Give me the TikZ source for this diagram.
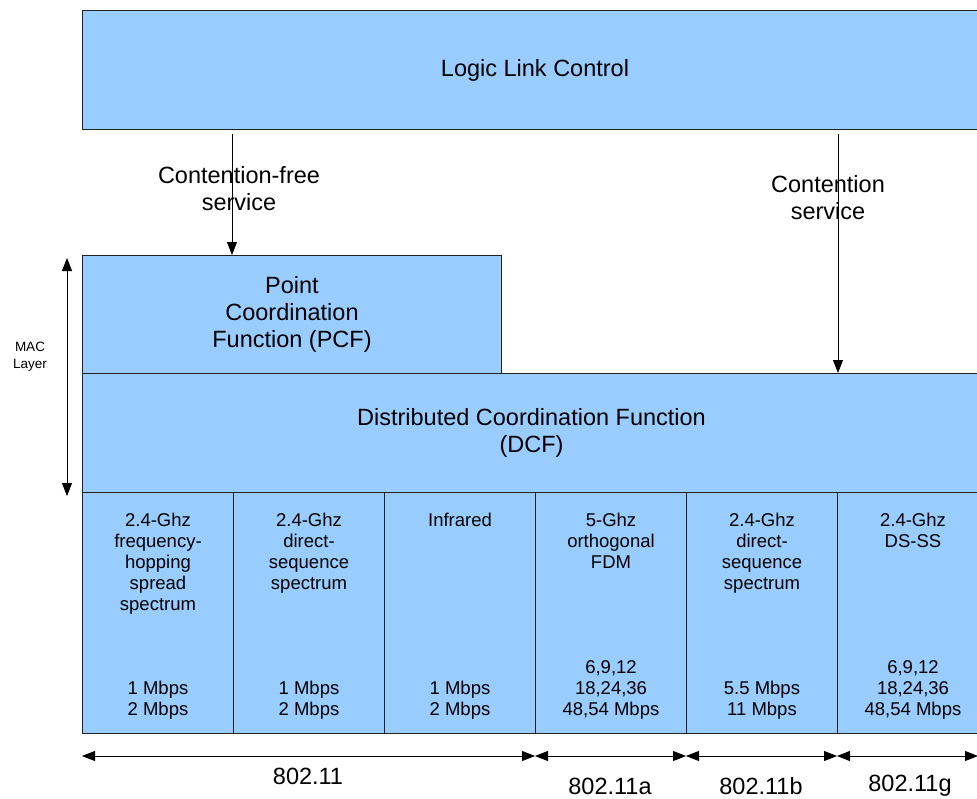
\documentclass[tikz,border=0pt]{standalone}
\usepackage{fontspec}
\setmainfont{Liberation Sans}
\usetikzlibrary{arrows.meta}
\definecolor{boxblue}{HTML}{99CCFF}
\definecolor{edge}{HTML}{222222}
\begin{document}
\begin{tikzpicture}[x=1pt,y=-1pt,
  blk/.style={draw=edge,line width=1pt,fill=boxblue,inner sep=0pt,anchor=north west},
  bigtxt/.style={font=\fontsize{23.5}{27}\selectfont,align=center,inner sep=0pt},
  coltxt/.style={font=\fontsize{18.5}{21}\selectfont,align=center,inner sep=0pt},
  smalltxt/.style={font=\fontsize{13.5}{17}\selectfont,align=center,inner sep=0pt},
  arr/.style={draw=black,line width=0.8pt,-{Triangle[length=13pt,width=10pt]}},
  darr/.style={draw=black,line width=0.8pt,{Triangle[length=13pt,width=10pt]}-{Triangle[length=13pt,width=10pt]}}]
\useasboundingbox (0,0) rectangle (977,798);
\clip (0,0) rectangle (977,798);
% boxes
\node[blk,minimum width=906pt,minimum height=119pt] (llc) at (82,10) {};
\node[bigtxt] (llct) at (535,70) {Logic Link Control};
\node[blk,minimum width=419pt,minimum height=118pt] (pcf) at (82,255) {};
\node[bigtxt] at (pcf.center) {Point\\Coordination\\Function (PCF)};
\node[blk,minimum width=906pt,minimum height=119pt] (dcf) at (82,373) {};
\node[bigtxt] at ([xshift=-4pt]dcf.center) {Distributed Coordination Function\\(DCF)};
% columns
\foreach \i in {1,...,6}{
  \node[blk,minimum width=151pt,minimum height=241pt] (c\i) at ({82+151*(\i-1)},492) {};
}
\node[coltxt,anchor=north] at ([yshift=-21pt]c1.north) {2.4-Ghz\\frequency-\\hopping\\spread\\spectrum};
\node[coltxt,anchor=north] at ([yshift=-21pt]c2.north) {2.4-Ghz\\direct-\\sequence\\spectrum};
\node[coltxt,anchor=north] at ([yshift=-21pt]c3.north) {Infrared};
\node[coltxt,anchor=north] at ([yshift=-21pt]c4.north) {5-Ghz\\orthogonal\\FDM};
\node[coltxt,anchor=north] at ([yshift=-21pt]c5.north) {2.4-Ghz\\direct-\\sequence\\spectrum};
\node[coltxt,anchor=north] at ([yshift=-21pt]c6.north) {2.4-Ghz\\DS-SS};
\node[coltxt,anchor=south] at ([yshift=14pt]c1.south) {1 Mbps\\2 Mbps};
\node[coltxt,anchor=south] at ([yshift=14pt]c2.south) {1 Mbps\\2 Mbps};
\node[coltxt,anchor=south] at ([yshift=14pt]c3.south) {1 Mbps\\2 Mbps};
\node[coltxt,anchor=south] at ([yshift=14pt]c4.south) {6,9,12\\18,24,36\\48,54 Mbps};
\node[coltxt,anchor=south] at ([yshift=14pt]c5.south) {5.5 Mbps\\11 Mbps};
\node[coltxt,anchor=south] at ([yshift=14pt]c6.south) {6,9,12\\18,24,36\\48,54 Mbps};
% service arrows
\coordinate (cfx) at (232,0);
\coordinate (cx) at (838,0);
\draw[arr] ([yshift=-4pt]llc.south -| cfx) -- (pcf.north -| cfx);
\draw[arr] ([yshift=-4pt]llc.south -| cx) -- (dcf.north -| cx);
\node[bigtxt] at (239,189) {Contention-free\\service};
\node[bigtxt] at (828,198) {Contention\\service};
% MAC layer
\coordinate (mtop) at (67,258);
\coordinate (mbot) at (67,496);
\draw[darr] (mtop) -- (mbot);
\node[smalltxt] at (30,357) {MAC\\Layer};
% bottom ranges
\coordinate (b0) at (82,756);
\coordinate (b1) at (535,756);
\coordinate (b2) at (686,756);
\coordinate (b3) at (837,756);
\coordinate (b4) at (978,756);
\draw[darr] (b0) -- (b1);
\draw[darr] (b1) -- (b2);
\draw[darr] (b2) -- (b3);
\draw[darr] (b3) -- (b4);
\node[bigtxt] at (308,776) {802.11};
\node[bigtxt] at (610,786) {802.11a};
\node[bigtxt] at (761,786) {802.11b};
\node[bigtxt] at (910,786) {802.11g};
\end{tikzpicture}
\end{document}
